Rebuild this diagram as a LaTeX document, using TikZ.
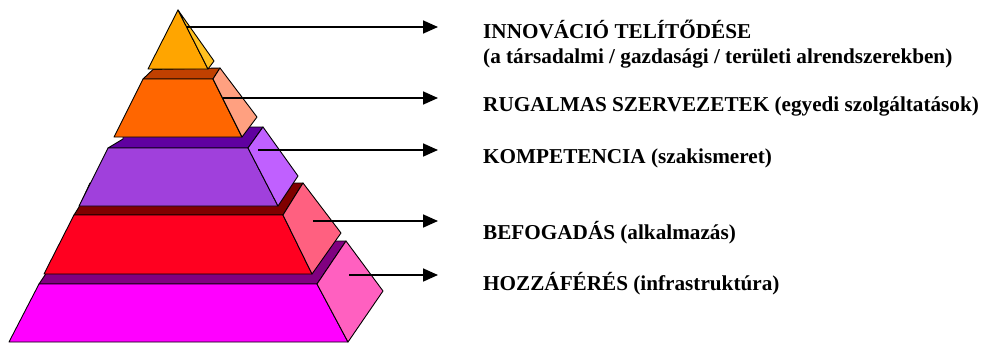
\documentclass[tikz,border=0pt]{standalone}
\usepackage{fontspec}
\setmainfont{Liberation Serif}
\usetikzlibrary{arrows.meta}
\definecolor{triF}{RGB}{255,165,0}
\definecolor{triS}{RGB}{255,192,32}
\definecolor{orF}{RGB}{255,102,0}
\definecolor{orT}{RGB}{192,64,0}
\definecolor{orS}{RGB}{255,160,128}
\definecolor{puF}{RGB}{160,64,220}
\definecolor{puT}{RGB}{96,0,160}
\definecolor{puS}{RGB}{192,96,255}
\definecolor{reF}{RGB}{255,0,32}
\definecolor{reT}{RGB}{128,0,0}
\definecolor{reS}{RGB}{255,96,128}
\definecolor{maF}{RGB}{255,0,255}
\definecolor{maT}{RGB}{128,0,128}
\definecolor{maS}{RGB}{255,96,192}
\tikzset{
  face/.style={draw=black, line width=0.9pt, line join=round},
  conn/.style={draw=black, line width=1.7pt, -{Triangle[length=15pt,width=13pt]}},
  lbl/.style={anchor=base west, inner sep=0pt, font=\fontsize{21.2}{25}\selectfont\bfseries, align=left}
}
\begin{document}
\begin{tikzpicture}[x=1pt,y=-1pt]
\useasboundingbox (0,0) rectangle (984,343);
% magenta layer
\path[face, fill=maT] (39,284) -- (45,275) -- (68,241) -- (346,241) -- (317,284) -- cycle;
\path[face, fill=maF] (39,284) -- (317,284) -- (348,342) -- (9,342) -- cycle;
\path[face, fill=maS] (317,284) -- (346,241) -- (383,291) -- (348,342) -- cycle;
% red layer
\path[face, fill=reT] (74,215) -- (79,207) -- (90,183) -- (303,183) -- (283,215) -- cycle;
\path[face, fill=reF] (74,215) -- (283,215) -- (312,274) -- (44,274) -- cycle;
\path[face, fill=reS] (283,215) -- (303,183) -- (341,233) -- (312,274) -- cycle;
% purple layer
\path[face, fill=puT] (108,148) -- (123,139) -- (123,127) -- (263,127) -- (248,148) -- cycle;
\path[face, fill=puF] (108,148) -- (248,148) -- (278,206) -- (79,206) -- cycle;
\path[face, fill=puS] (248,148) -- (263,127) -- (298,176) -- (278,206) -- cycle;
% orange layer
\path[face, fill=orT] (143,79) -- (153,69.5) -- (220,68) -- (213,79) -- cycle;
\path[face, fill=orF] (143,79) -- (213,79) -- (242,137) -- (114,137) -- cycle;
\path[face, fill=orS] (213,79) -- (220,68) -- (257,117) -- (242,137) -- cycle;
% top triangle
\path[face, fill=triF] (178,10) -- (208,69) -- (148,69) -- cycle;
\path[face, fill=triS] (178,10) -- (214,61) -- (208,69) -- cycle;
% connector ends
\coordinate (c1) at (187,27);
\coordinate (c2) at (223,98);
\coordinate (c3) at (258,150);
\coordinate (c4) at (313,221);
\coordinate (c5) at (349,275);
\coordinate (e1) at (438,27);
\coordinate (e2) at (438,98);
\coordinate (e3) at (438,150);
\coordinate (e4) at (438,221);
\coordinate (e5) at (438,275);
\draw[conn] (c1) -- (e1);
\draw[conn] (c2) -- (e2);
\draw[conn] (c3) -- (e3);
\draw[conn] (c4) -- (e4);
\draw[conn] (c5) -- (e5);
% labels
\node[lbl] (t1) at (483,38) {INNOVÁCIÓ TELÍTŐDÉSE};
\node[lbl] (t1b) at (483,63) {(a társadalmi / gazdasági / területi alrendszerekben)};
\node[lbl] (t2) at (483,111) {RUGALMAS SZERVEZETEK (egyedi szolgáltatások)};
\node[lbl] (t3) at (483,163) {KOMPETENCIA (szakismeret)};
\node[lbl] (t4) at (483,239) {BEFOGADÁS (alkalmazás)};
\node[lbl] (t5) at (483,290) {HOZZÁFÉRÉS (infrastruktúra)};
\end{tikzpicture}
\end{document}
